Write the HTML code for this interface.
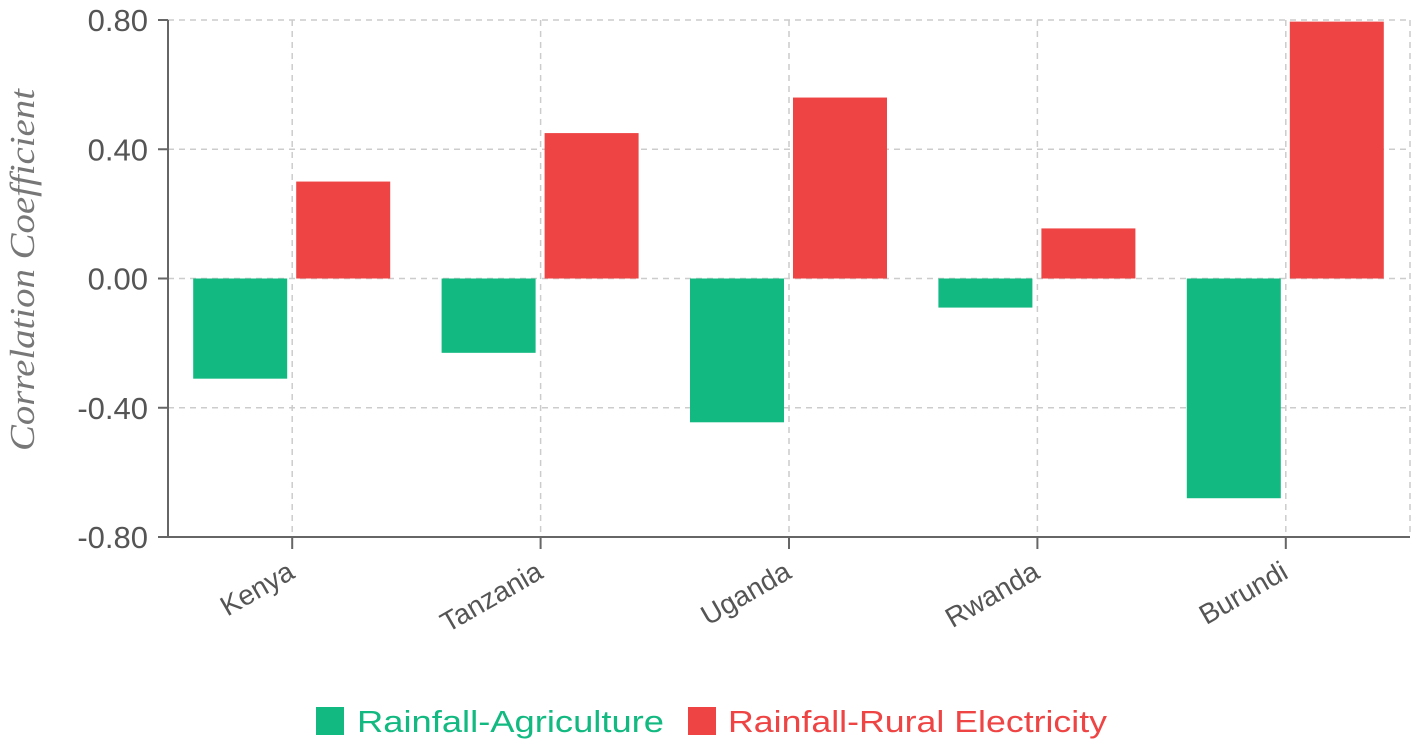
<!DOCTYPE html>
<html><head><meta charset="utf-8"><style>
body{margin:0;background:#fff;}
svg{display:block;font-family:"Liberation Sans",sans-serif;}
</style></head><body>
<svg id="c" width="1418" height="748"></svg>
<script>
const categories=["Kenya","Tanzania","Uganda","Rwanda","Burundi"];
const agriculture=[-0.31,-0.23,-0.445,-0.09,-0.68];
const electricity=[0.30,0.45,0.56,0.155,0.795];
const yTicks=[0.8,0.4,0,-0.4,-0.8];
const yTickLabels=["0.80","0.40","0.00","-0.40","-0.80"];
const NS="http://www.w3.org/2000/svg";
const svg=document.getElementById('c');
const x0=168,x1=1410,yTop=20,yBot=537;
const band=(x1-x0)/categories.length;
const y=v=>yTop+(0.8-v)/1.6*(yBot-yTop);
const bx=i=>x0+band*(i+0.5);
function mk(t,a,p){const e=document.createElementNS(NS,t);for(const k in a)e.setAttribute(k,a[k]);(p||svg).appendChild(e);return e;}
yTicks.forEach((v,i)=>{
 if(v!==-0.8){const g=mk('line',{x1:x0,x2:x1,y1:y(v),y2:y(v),stroke:'#ccc','stroke-width':1.5,'stroke-dasharray':'6,5'});
 
 }
 const t=mk('line',{x1:x0-10,x2:x0,y1:y(v),y2:y(v),stroke:'#666','stroke-width':2});
 
 
 const l=mk('text',{x:x0-20,y:y(v)+11,'text-anchor':'end','font-size':31,fill:'#555'});
 l.textContent=yTickLabels[i];
 
 
});
categories.forEach((c,i)=>{
 const g=mk('line',{x1:bx(i),x2:bx(i),y1:yTop,y2:yBot,stroke:'#ccc','stroke-width':1.5,'stroke-dasharray':'6,5'});
 
 
});
const rg=mk('line',{x1:x1,x2:x1,y1:yTop,y2:yBot,stroke:'#ccc','stroke-width':1.5,'stroke-dasharray':'6,5'});


categories.forEach((c,i)=>{
 const c0=bx(i),w=94;
 const a=agriculture[i],e=electricity[i];
 const g=mk('rect',{x:c0-5-w,y:Math.min(y(a),y(0)),width:w,height:Math.abs(y(a)-y(0)),fill:'#12b981'});
 
 
 const r=mk('rect',{x:c0+4,y:Math.min(y(e),y(0)),width:w,height:Math.abs(y(e)-y(0)),fill:'#ef4444'});
 
 
 const t=mk('line',{x1:c0,x2:c0,y1:yBot,y2:yBot+12,stroke:'#666','stroke-width':2});
 
 
 const lx=c0+4,ly=yBot+40;
 const l=mk('text',{x:lx,y:ly,'text-anchor':'end','font-size':28,fill:'#555',transform:`rotate(-30 ${lx} ${ly})`});
 l.textContent=c;
 
 
});
const ya=mk('line',{x1:x0,x2:x0,y1:yTop,y2:yBot,stroke:'#666','stroke-width':2});


const xa=mk('line',{x1:x0,x2:x1,y1:yBot,y2:yBot,stroke:'#666','stroke-width':2});


const yt=mk('text',{x:34,y:270,'text-anchor':'middle','font-size':35,'font-style':'italic','font-family':'Liberation Serif,serif',fill:'#777',textLength:362,lengthAdjust:'spacingAndGlyphs',transform:'rotate(-90 34 270)'});
yt.textContent='Correlation Coefficient';


const lg=mk('g',{});


const s1=mk('rect',{x:316,y:707,width:28,height:28,fill:'#12b981'},lg);


const t1=mk('text',{x:357,y:732,'font-size':31,fill:'#12b981',textLength:307,lengthAdjust:'spacingAndGlyphs'},lg);
t1.textContent='Rainfall-Agriculture';


const s2=mk('rect',{x:688,y:707,width:28,height:28,fill:'#ef4444'},lg);


const t2=mk('text',{x:728,y:732,'font-size':31,fill:'#ef4444',textLength:379,lengthAdjust:'spacingAndGlyphs'},lg);
t2.textContent='Rainfall-Rural Electricity';


</script>
</body></html>
